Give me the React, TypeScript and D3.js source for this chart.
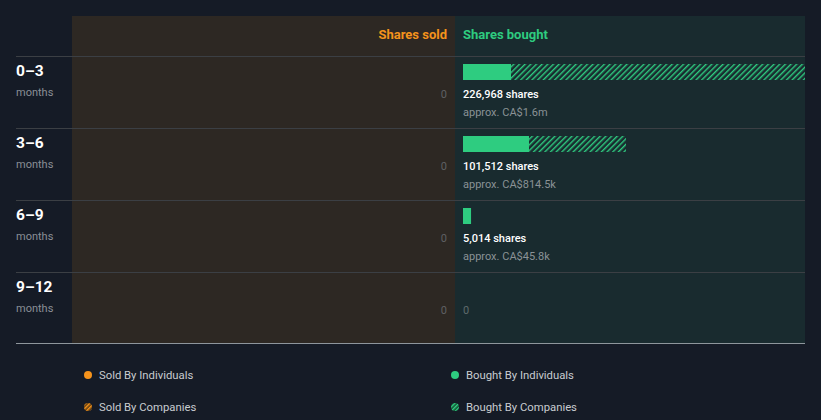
import React from "react";
import * as d3 from "d3";

const periods = ["0–3", "3–6", "6–9", "9–12"];
const boughtIndividuals = [29900, 41100, 5014, 0];
const boughtCompanies = [197068, 60412, 0, 0];
const boughtTotals = ["226,968", "101,512", "5,014", ""];
const boughtValues = ["CA$1.6m", "CA$814.5k", "CA$45.8k", ""];
const soldTotals = [0, 0, 0, 0];
const legendItems = ["Sold By Individuals", "Bought By Individuals", "Sold By Companies", "Bought By Companies"];

const W = 821, H = 420;
const BG = "#151b26";
const SOLD_BG = "#2d2823";
const BOUGHT_BG = "#192b2f";
const GREEN = "#2ecc80";
const ORANGE = "#f5931c";
const FONT = "Roboto, 'Noto Sans', sans-serif";

export default function App() {
  const y = d3.scaleBand<number>().domain(d3.range(periods.length)).range([56, 344]);
  const x = d3.scaleLinear().domain([0, 213000]).range([463, 805]).clamp(true);
  return (
    <svg width={W} height={H} style={{ position: "absolute", left: 0, top: 0, background: BG }}>
      <defs>
        <pattern id="hatchG" patternUnits="userSpaceOnUse" width={4} height={4} patternTransform="rotate(45)">
          <rect width={4} height={4} fill={BOUGHT_BG} />
          <rect width={1.4} height={4} fill={GREEN} />
        </pattern>
        <pattern id="hatchO" patternUnits="userSpaceOnUse" width={3} height={3} patternTransform="rotate(45)">
          <rect width={3} height={3} fill="#5a3a10" />
          <rect width={1.5} height={3} fill={ORANGE} />
        </pattern>
        <pattern id="hatchL" patternUnits="userSpaceOnUse" width={3} height={3} patternTransform="rotate(45)">
          <rect width={3} height={3} fill="#134a30" />
          <rect width={1.5} height={3} fill={GREEN} />
        </pattern>
        <clipPath id="boughtClip"><rect x={455} y={16} width={350} height={328} /></clipPath>
      </defs>
      <rect x={0} y={0} width={W} height={H} fill={BG} />
      <rect x={72} y={16} width={383} height={328} fill={SOLD_BG} />
      <rect x={455} y={16} width={350} height={328} fill={BOUGHT_BG} />
      <text x={447} y={39} textAnchor="end" fill={ORANGE} fontFamily={FONT} fontSize={13} fontWeight={700}>Shares sold</text>
      <text x={463} y={39} fill={GREEN} fontFamily={FONT} fontSize={13} fontWeight={700}>Shares bought</text>
      {periods.map((p, i) => {
        const top = y(i)!;
        const xi = x(boughtIndividuals[i]);
        const xc = x(boughtIndividuals[i] + boughtCompanies[i]);
        const hasBought = boughtIndividuals[i] + boughtCompanies[i] > 0;
        return (
          <g key={p}>
            <line x1={16} x2={805} y1={top + 0.5} y2={top + 0.5} stroke="#3b3f44" strokeWidth={1} />
            <text x={16} y={top + 20} fill="#ffffff" fontFamily={FONT} fontSize={15.5} fontWeight={700}>{p}</text>
            <text x={16} y={top + 40} fill="#8a8f96" fontFamily={FONT} fontSize={11}>months</text>
            <text x={447} y={top + 42} textAnchor="end" fill="#5f6064" fontFamily={FONT} fontSize={11}>{soldTotals[i]}</text>
            {hasBought ? (
              <g>
                <g clipPath="url(#boughtClip)">
                  {boughtCompanies[i] > 0 && (
                    <rect x={xi} y={top + 8} width={Math.max(0, xc - xi)} height={16} fill="url(#hatchG)" />
                  )}
                  <rect x={x(0)} y={top + 8} width={xi - x(0)} height={16} fill={GREEN} />
                </g>
                <text x={463} y={top + 42} fill="#ffffff" fontFamily={FONT} fontSize={11} fontWeight={500}>{boughtTotals[i]} shares</text>
                <text x={463} y={top + 60} fill="#8a9296" fontFamily={FONT} fontSize={11}>approx. {boughtValues[i]}</text>
              </g>
            ) : (
              <text x={463} y={top + 42} fill="#5f6a6c" fontFamily={FONT} fontSize={11}>0</text>
            )}
          </g>
        );
      })}
      <line x1={16} x2={805} y1={343.5} y2={343.5} stroke="#8e969c" strokeWidth={1} />
      {legendItems.map((t, i) => {
        const col = i % 2, row = Math.floor(i / 2);
        const lx = col === 0 ? 88 : 455;
        const ly = row === 0 ? 375 : 407;
        const fill = col === 0 ? (row === 0 ? ORANGE : "url(#hatchO)") : (row === 0 ? GREEN : "url(#hatchL)");
        return (
          <g key={t}>
            <circle cx={lx} cy={ly} r={4} fill={fill} />
            <text x={lx + 11} y={ly + 4} fill="#c8ccd0" fontFamily={FONT} fontSize={11.3}>{t}</text>
          </g>
        );
      })}
    </svg>
  );
}
